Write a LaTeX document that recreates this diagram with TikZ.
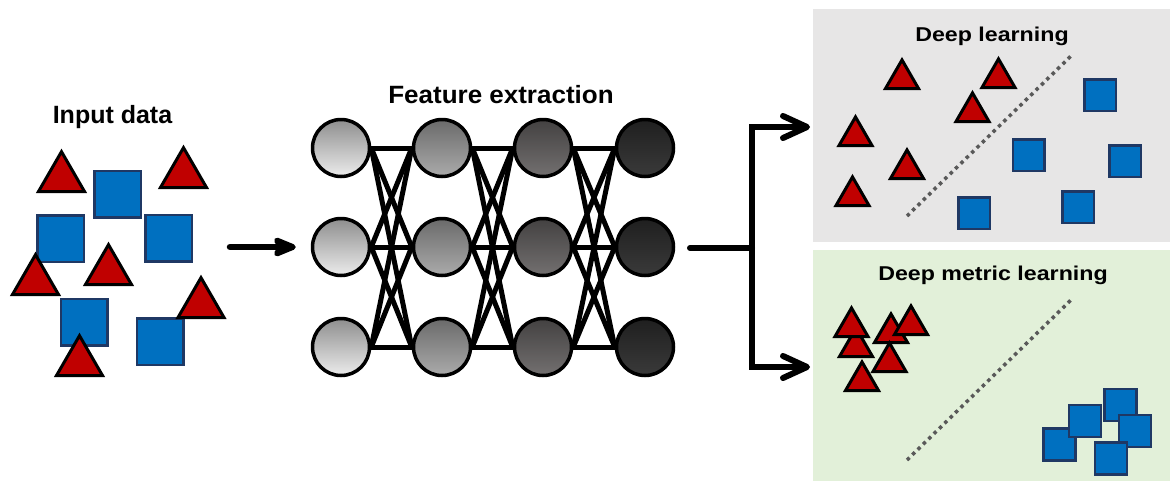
\documentclass[tikz,border=0pt]{standalone}
\usepackage{fontspec}
\setmainfont{Liberation Sans}
\usetikzlibrary{arrows.meta,backgrounds}
\definecolor{tred}{HTML}{C00000}
\definecolor{sblue}{HTML}{0070C0}
\definecolor{snavy}{HTML}{1F3864}
\definecolor{pgray}{HTML}{E7E6E6}
\definecolor{pgreen}{HTML}{E2F0D9}
\definecolor{dotgray}{HTML}{595959}
\definecolor{na}{HTML}{8E8E8E}\definecolor{nb}{HTML}{ECECEC}
\definecolor{nc}{HTML}{6A6A6A}\definecolor{nd}{HTML}{ABABAB}
\definecolor{ne}{HTML}{434141}\definecolor{nf}{HTML}{737070}
\definecolor{ng}{HTML}{1F1F1F}\definecolor{nh}{HTML}{3A3A3A}
\newcommand\tri[3]{\draw[trishape] ({#1-#3/2},{#2}) -- ({#1},{#2-0.866*#3}) -- ({#1+#3/2},{#2}) -- cycle;}
\newcommand\sq[3]{\draw[sqshape] ({#1-#3/2},{#2-#3/2}) rectangle ({#1+#3/2},{#2+#3/2});}
\begin{document}
\begin{tikzpicture}[x=1pt,y=-1pt,
  trishape/.style={fill=tred, draw=black, line width=3pt, line join=miter},
  sqshape/.style={fill=sblue, draw=snavy, line width=2.5pt},
  neuron/.style={circle, draw=black, line width=3.5pt, minimum size=57pt, inner sep=0pt},
  edge/.style={line width=5pt, black},
  title/.style={font=\bfseries\fontsize{25pt}{30pt}\selectfont, anchor=base, inner sep=0pt},
  ptitle/.style={font=\bfseries\fontsize{20pt}{24pt}\selectfont, anchor=base, inner sep=0pt, xscale=1.16},
  inarrow/.style={line width=6.5pt, line cap=round, -{Stealth[length=30pt,width=24pt,inset=7pt,round]}},
  bigline/.style={line width=6pt, line cap=round},
  bigarrow/.style={line width=6pt, line join=miter, -{Straight Barb[length=24pt,width=22pt,round]}},
  dotline/.style={draw=dotgray, line width=3.5pt, dash pattern=on 3.5pt off 4pt}
]
\useasboundingbox (0,0) rectangle (1170,482);
% panels
\fill[pgray] (813,9) rectangle (1170,242);
\fill[pgreen] (813,250) rectangle (1170,481);

% titles
\node[title] (tin) at (112.5,123) {Input data};
\node[title, xscale=1.04] (tfe) at (501,103) {Feature extraction};
\node[ptitle] (tdl) at (992,41) {Deep learning};
\node[ptitle] (tdml) at (993,280) {Deep metric learning};

% input data shapes
\sq{117.5}{194}{46.5}
\sq{60.5}{238.5}{46.5}
\sq{168.5}{238}{46.5}
\sq{84}{322}{46.5}
\sq{160}{341.5}{46.5}
\tri{61.5}{191.5}{46}
\tri{183.5}{187.5}{46}
\tri{35.5}{294.5}{46}
\tri{108.5}{284.5}{46}
\tri{201}{317.5}{46}
\tri{79.5}{375.5}{46}

% network
\foreach \c/\x/\tc/\bc in {1/341/na/nb, 2/442/nc/nd, 3/543/ne/nf, 4/645/ng/nh}
  \foreach \r/\y in {1/148, 2/247, 3/347}
    \node[neuron, top color=\tc, bottom color=\bc] (n-\c-\r) at (\x,\y) {};
\begin{scope}[on background layer]
\foreach \c/\d in {1/2, 2/3, 3/4}
  \foreach \r in {1,2,3}
    \foreach \s in {1,2,3}
      \draw[edge] (n-\c-\r.east) -- (n-\d-\s.west);
\end{scope}

% arrows
\coordinate (inS) at (230,247);
\draw[inarrow, shorten >=15pt] (inS) -- (n-1-2.west);
\coordinate (outS) at (690,248);
\coordinate (split) at (752,248);
\coordinate (dlT) at (810,127);
\coordinate (dmlT) at (810,367);
\draw[bigline] (outS) -- (split);
\draw[bigarrow] (split) |- (dlT);
\draw[bigarrow] (split) |- (dmlT);

% deep learning panel
\coordinate (d1a) at (907,216); \coordinate (d1b) at (1072,55);
\draw[dotline] (d1a) -- (d1b);
\tri{902}{88.5}{33}
\tri{998.5}{87.5}{33}
\tri{972.5}{121.5}{33}
\tri{855.5}{145.5}{33}
\tri{907}{178.5}{33}
\tri{852.5}{205.5}{33}
\sq{1100}{95}{31.5}
\sq{1028.5}{155}{31.5}
\sq{1125}{161}{31.5}
\sq{1078}{207}{31.5}
\sq{974}{213}{31.5}

% deep metric learning panel
\coordinate (d2a) at (907,460); \coordinate (d2b) at (1072,299);
\draw[dotline] (d2a) -- (d2b);
\tri{856}{356.5}{33}
\tri{851.5}{336.5}{33}
\tri{891}{342.5}{33}
\tri{911}{334.5}{33}
\tri{889.5}{371.5}{33}
\tri{862}{390.5}{33}
\sq{1059.5}{444.5}{32}
\sq{1085}{421}{32}
\sq{1120.5}{405}{32}
\sq{1135}{431}{32}
\sq{1111}{458.5}{32}
\end{tikzpicture}
\end{document}
